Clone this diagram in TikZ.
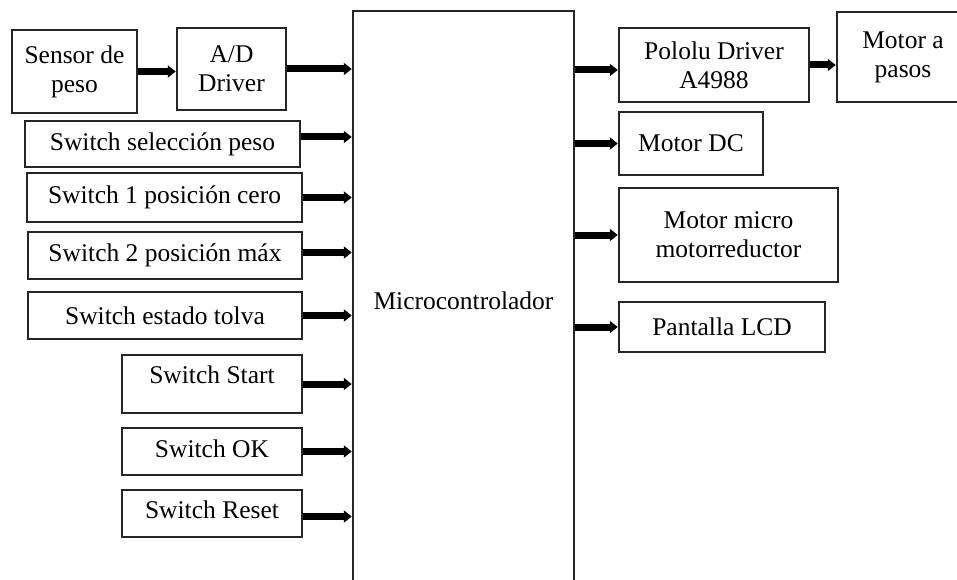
\documentclass[tikz,border=0pt]{standalone}
\usepackage{fontspec}
\setmainfont{Liberation Serif}
\usetikzlibrary{positioning, arrows.meta, calc}

\begin{document}
\begin{tikzpicture}[
  x=1pt, y=-1pt,
  every node/.style = {font=\fontsize{25.5}{29}\selectfont},
  box/.style  = {draw=black!85, line width=2.5pt, inner sep=0pt, align=center},
  arr/.style  = {-{Triangle[length=8pt, width=12pt]}, line width=7pt}
]
\path[use as bounding box, clip] (0,0) rectangle (957,580);

% inputs
\node[box, minimum width=125, minimum height=83] (sensor) at (74.5, 71.5) {Sensor de\\peso};
\node[box, minimum width=109, minimum height=82] (ad)     at (231.5, 69)  {A/D\\Driver};
\node[box, minimum width=275, minimum height=46] (sel)    at (162.5, 144) {Switch selección peso};
\node[box, minimum width=275, minimum height=49] (sw1)    at (164.5, 197.5) {Switch 1 posición cero};
\node[box, minimum width=274, minimum height=47] (sw2)    at (165, 255.5) {Switch 2 posición máx};
\node[box, minimum width=274, minimum height=47] (tolva)  at (165, 315.5) {Switch estado tolva};
\node[box, minimum width=180, minimum height=58, text depth=19pt] (start) at (212, 384)   {Switch Start};
\node[box, minimum width=180, minimum height=47, text depth=6pt]  (ok)    at (212, 451.5) {Switch OK};
\node[box, minimum width=180, minimum height=47, text depth=8pt]  (reset) at (212, 513.5) {Switch Reset};

% controller
\node[box, minimum width=221, minimum height=579] (micro) at (463.5, 300.5) {Microcontrolador};

% outputs
\node[box, minimum width=190, minimum height=74] (pololu)   at (714, 65)    {Pololu Driver\\A4988};
\node[box, minimum width=132, minimum height=90] (pasos)    at (903, 57)    {Motor a\\pasos};
\node[box, minimum width=144, minimum height=63] (dc)       at (691, 143.5) {Motor DC};
\node[box, minimum width=219, minimum height=94] (micromot) at (728.5, 235) {Motor micro\\motorreductor};
\node[box, minimum width=206, minimum height=50] (lcd)      at (722, 327)   {Pantalla LCD};

\draw[arr] (sensor.east) -- (sensor.east -| ad.west);
\draw[arr] (ad.east)     -- (ad.east -| micro.west);
\draw[arr] ([yshift=7pt]sel.east) -- ([yshift=7pt]sel.east -| micro.west);
\draw[arr] (sw1.east)    -- (sw1.east -| micro.west);
\draw[arr] ([yshift=3pt]sw2.east) -- ([yshift=3pt]sw2.east -| micro.west);
\draw[arr] (tolva.east)  -- (tolva.east -| micro.west);
\draw[arr] (start.east)  -- (start.east -| micro.west);
\draw[arr] (ok.east)     -- (ok.east -| micro.west);
\draw[arr] ([yshift=-3pt]reset.east) -- ([yshift=-3pt]reset.east -| micro.west);

\draw[arr] ([yshift=-5pt]pololu.west -| micro.east) -- ([yshift=-5pt]pololu.west);
\draw[arr] (dc.west -| micro.east)       -- (dc.west);
\draw[arr] (micromot.west -| micro.east) -- (micromot.west);
\draw[arr] (lcd.west -| micro.east)      -- (lcd.west);
\draw[arr] (pololu.east) -- (pololu.east -| pasos.west);

\end{tikzpicture}
\end{document}
